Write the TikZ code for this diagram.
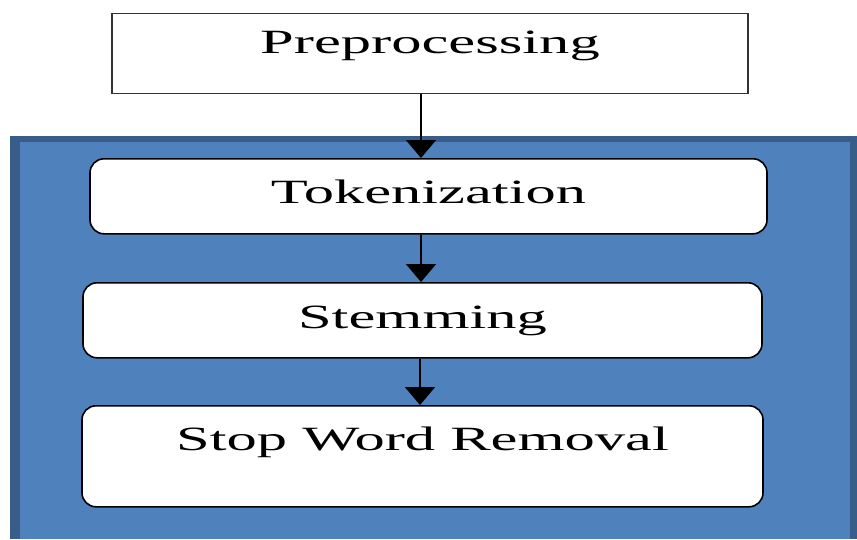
\documentclass[tikz,border=0pt]{standalone}
\usepackage{fontspec}
\setmainfont{Liberation Serif}
\newfontfamily\boxfont[FakeStretch=1.78]{Liberation Serif}
\usetikzlibrary{arrows.meta}
\definecolor{panelblue}{RGB}{79,129,189}
\definecolor{paneledge}{RGB}{56,93,138}
\begin{document}
\begin{tikzpicture}[x=1pt, y=-1pt,
    stagebox/.style={draw=black, line width=1.6pt, fill=white, rounded corners=14pt,
        inner sep=0pt, anchor=north, font=\boxfont\fontsize{34}{40}\selectfont},
    flow/.style={draw=black, line width=1.8pt, -{Triangle[width=30pt, length=18pt]}}]
    \useasboundingbox (0,0) rectangle (857,539);

    % Blue panel behind the steps
    \fill[paneledge] (10,136) rectangle (857,539);
    \fill[panelblue] (20,142) rectangle (850,539);

    % Define the nodes (boxes)
    % Top box
    \node[stagebox, rounded corners=0pt, draw=black!80, line width=1.4pt,
        minimum width=636pt, text height=40pt, text depth=40pt] (pre) at (430,13) {Preprocessing};

    % Steps inside the panel
    \node[stagebox, minimum width=677pt, text height=45pt, text depth=30pt] (tok) at (428.5,158) {Tokenization};
    \node[stagebox, minimum width=679pt, text height=46pt, text depth=29pt] (stem) at (422.5,282) {Stemming};
    \node[stagebox, minimum width=681pt, text height=45pt, text depth=56pt] (stop) at (422.5,405) {Stop Word Removal};

    % Draw arrows
    \draw[flow] ([xshift=-9pt]pre.south) -- ([xshift=-9pt]pre.south |- tok.north);
    \draw[flow] ([xshift=-7.5pt]tok.south) -- ([xshift=-7.5pt]tok.south |- stem.north);
    \draw[flow] ([xshift=-2.5pt]stem.south) -- ([xshift=-2.5pt]stem.south |- stop.north);
\end{tikzpicture}
\end{document}
